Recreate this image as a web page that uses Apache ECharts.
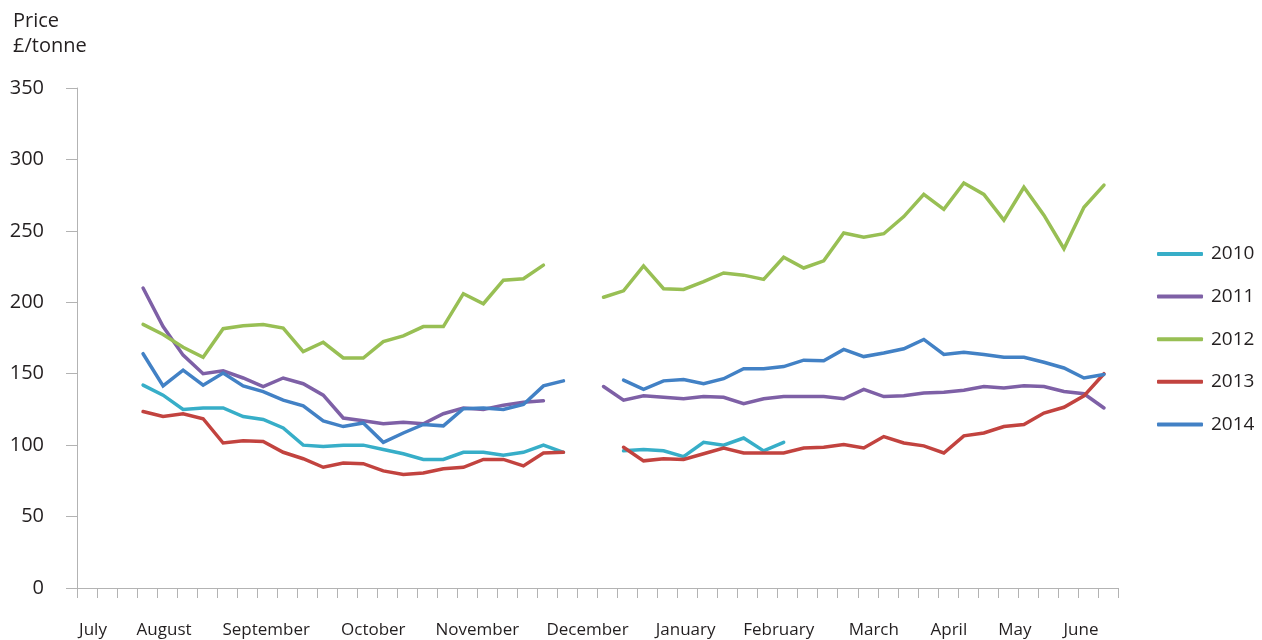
<!DOCTYPE html>
<html>
<head>
<meta charset="utf-8">
<title>Price £/tonne</title>
<script src="https://cdn.jsdelivr.net/npm/echarts@6.0.0/dist/echarts.min.js"></script>
<style>
  html, body { margin: 0; padding: 0; background: #fff; }
  #chart { width: 1262px; height: 640px; }
</style>
</head>
<body>
<div id="chart"></div>
<script>
// weekly prices, first reading lands about 3.3 weeks after 1 July
var firstWeek = 3.3;
var weeksInYear = 52;

var years = ['2010', '2011', '2012', '2013', '2014'];
var colors = ['#37aec8', '#7e60a6', '#98bf54', '#c2433f', '#4281c5'];

// month names sit under the week axis at these week positions
var months = ['July', 'August', 'September', 'October', 'November', 'December',
  'January', 'February', 'March', 'April', 'May', 'June'];
var monthPos = [0.8, 4.35, 9.45, 14.8, 20.0, 25.5, 30.4, 35.05, 39.8, 43.55, 46.85, 50.15];

var p2010 = [142, 135, 125, 126, 126, 120, 118, 112, 100, 99, 100, 100, 97, 94, 90, 90, 95, 95, 93, 95, 100, 95,
  null, null,
  96, 97, 96, 92, 102, 100, 105, 96, 102,
  null, null, null, null, null, null, null, null, null, null, null, null, null, null, null, null];

var p2011 = [210, 183, 163, 150, 152, 147, 141, 147, 143, 135, 119, 117, 115, 116, 115, 122, 126, 125, 128, 130, 131,
  null, null,
  141, 131.5, 134.5, 133.5, 132.5, 134, 133.5, 129, 132.5, 134, 134, 134, 132.5, 139, 134, 134.5, 136.5, 137,
  138.5, 141, 140, 141.5, 141, 137.5, 136, 126];

var p2012 = [184.5, 177.5, 168.5, 161.5, 181.5, 183.5, 184.5, 182, 165.5, 172, 161, 161, 172.5, 176.5, 183, 183,
  206, 199, 215.5, 216.5, 226,
  null, null,
  203.5, 208, 225.5, 209.5, 209, 214.5, 220.5, 219, 216, 231.5, 224, 229, 248.5, 245.5, 248, 260, 275.5, 265,
  283.5, 275.5, 257.5, 280.5, 261, 237.5, 266.5, 282];

var p2013 = [123.5, 120, 122, 118.5, 101.5, 103, 102.5, 95, 90.5, 84.5, 87.5, 87, 82, 79.5, 80.5, 83.5, 84.5, 90, 90,
  85.5, 94.5, 95,
  null, null,
  98.5, 89, 90.5, 90, 94, 98, 94.5, 94.5, 94.5, 98, 98.5, 100.5, 98, 106, 101.5, 99.5, 94.5, 106.5, 108.5, 113,
  114.5, 122.5, 126.5, 134.5, 150];

var p2014 = [164, 141.5, 152.5, 142, 150.5, 141.5, 137.5, 131.5, 127.5, 117, 113, 115.5, 102, 108.5, 114.5, 113.5,
  125.5, 126, 125, 128.5, 141.5, 145,
  null, null,
  145.5, 139, 145, 146, 143, 146.5, 153.5, 153.5, 155, 159.5, 159, 167, 162, 164.5, 167.5, 174, 163.5, 165, 163.5,
  161.5, 161.5, 158, 154, 147, 149.5];

var prices = [p2010, p2011, p2012, p2013, p2014];

var textColor = '#231f20';
var axisColor = '#b3b3b3';
var font = 'Open Sans';

var weekTicks = [];
for (var w = 0; w <= weeksInYear; w++) weekTicks.push(w);

function toPoints(arr) {
  return arr.map(function (v, i) {
    return [firstWeek + i, v == null ? '-' : v];
  });
}

function monthName(v) {
  var best = 0;
  for (var i = 1; i < monthPos.length; i++) {
    if (Math.abs(monthPos[i] - v) < Math.abs(monthPos[best] - v)) best = i;
  }
  return months[best];
}

var myChart = echarts.init(document.getElementById('chart'));

var option = {
  animation: false,
  color: colors,
  textStyle: { fontFamily: font },
  title: {
    text: 'Price\n£/tonne',
    left: 8,
    top: 4,
    textStyle: { fontSize: 20, lineHeight: 25, fontWeight: 'normal', color: textColor, fontFamily: font }
  },
  legend: {
    orient: 'vertical',
    left: 1152,
    top: 239,
    icon: 'roundRect',
    itemWidth: 46,
    itemHeight: 4,
    itemGap: 22.6,
    data: years,
    textStyle: { fontSize: 19, lineHeight: 20, color: textColor, fontFamily: font, padding: [0, 0, 0, 3] }
  },
  grid: { left: 77, right: 144, top: 88, bottom: 52 },
  xAxis: {
    type: 'value',
    min: 0,
    max: weeksInYear,
    interval: 1,
    axisLine: { show: true, lineStyle: { color: axisColor, width: 1 } },
    axisTick: { show: true, customValues: weekTicks, length: 10, lineStyle: { color: axisColor } },
    axisLabel: {
      customValues: monthPos,
      formatter: monthName,
      fontSize: 17,
      color: textColor,
      fontFamily: font,
      margin: 34
    },
    splitLine: { show: false }
  },
  yAxis: {
    type: 'value',
    min: 0,
    max: 350,
    interval: 50,
    axisLine: { show: true, lineStyle: { color: axisColor, width: 1 } },
    axisTick: { show: true, length: 11, lineStyle: { color: axisColor } },
    axisLabel: { fontSize: 20, color: textColor, fontFamily: font, margin: 33 },
    splitLine: { show: false }
  },
  series: years.map(function (y, i) {
    return {
      name: y,
      type: 'line',
      data: toPoints(prices[i]),
      showSymbol: false,
      symbol: 'none',
      connectNulls: false,
      lineStyle: { width: 3.5, cap: 'round', join: 'miter' },
      emphasis: { disabled: true }
    };
  })
};

myChart.setOption(option);
</script>
</body>
</html>
